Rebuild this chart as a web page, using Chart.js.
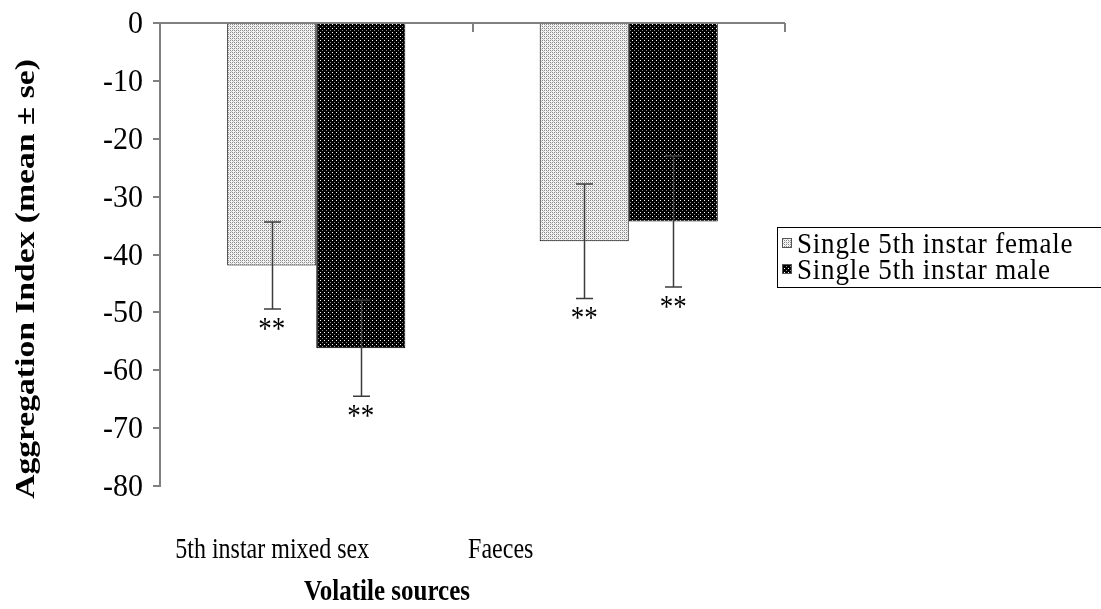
<!DOCTYPE html>
<html>
<head>
<meta charset="utf-8">
<script src="https://cdn.jsdelivr.net/npm/chart.js@4.4.0/dist/chart.umd.min.js"></script>
<style>
  html, body { margin: 0; padding: 0; background: #fff; }
  #wrap { width: 1101px; height: 609px; }
</style>
</head>
<body>
<div id="wrap"><canvas id="chart"></canvas></div>
<script>
const categories = ['5th instar mixed sex', 'Faeces'];
const seriesNames = ['Single 5th instar female', 'Single 5th instar male'];
const femaleMeans = [-41.9, -37.7];
const maleMeans = [-56.2, -34.3];
const femaleSe = [7.5, 9.9];
const maleSe = [8.3, 11.3];
const femaleMarks = ['**', '**'];
const maleMarks = ['**', '**'];
const yMin = -80;
const yMax = 0;
const yStep = 10;

const serif = '"Liberation Serif", "Times New Roman", serif';

const makePattern = (bg, dots) => {
    const tile = document.createElement('canvas');
    tile.width = 4;
    tile.height = 4;
    const t = tile.getContext('2d');
    t.fillStyle = bg;
    t.fillRect(0, 0, 4, 4);
    dots.forEach(([x, y, c]) => {
        t.fillStyle = c;
        t.fillRect(x, y, 1, 1);
    });
    return t.createPattern(tile, 'repeat');
};

const femaleFill = makePattern('#f4f4f4', [
    [0, 0, '#8a8a8a'], [2, 0, '#8a8a8a'], [0, 2, '#8a8a8a'], [2, 2, '#8a8a8a'], [1, 1, '#c4c4c4'], [3, 3, '#c4c4c4']
]);
const maleFill = makePattern('#000000', [
    [0, 0, '#ffffff'], [2, 2, '#8a8a8a']
]);

// the original picture is a bit taller than wide, so its text is drawn stretched
const tallText = (ctx, text, x, y, font, { align = 'center', stretch = 1.2, spacing = '0px' } = {}) => {
    ctx.save();
    ctx.translate(x, y);
    ctx.scale(1, stretch);
    ctx.font = font;
    ctx.letterSpacing = spacing;
    ctx.textAlign = align;
    ctx.textBaseline = 'alphabetic';
    ctx.fillStyle = '#000';
    ctx.fillText(text, 0, 0);
    ctx.restore();
};

const errorBars = {
    id: 'errorBars',
    afterDatasetsDraw(chart) {
        const { ctx } = chart;
        const y = chart.scales.y;
        const errs = [femaleSe, maleSe];
        const marks = [femaleMarks, maleMarks];
        chart.data.datasets.forEach((ds, i) => {
            chart.getDatasetMeta(i).data.forEach((bar, j) => {
                const v = ds.data[j];
                const lo = y.getPixelForValue(v - errs[i][j]);
                const hi = y.getPixelForValue(v + errs[i][j]);
                const x = Math.round(bar.x) + 0.5;
                ctx.save();
                ctx.strokeStyle = '#3c3c3c';
                ctx.lineWidth = 1.5;
                ctx.beginPath();
                ctx.moveTo(x, hi);
                ctx.lineTo(x, lo);
                ctx.moveTo(x - 8.5, hi);
                ctx.lineTo(x + 8.5, hi);
                ctx.moveTo(x - 8.5, lo);
                ctx.lineTo(x + 8.5, lo);
                ctx.stroke();
                ctx.restore();
                tallText(ctx, marks[i][j], bar.x, lo + 30, '27px ' + serif);
            });
        });
    }
};

const decorations = {
    id: 'decorations',
    afterDraw(chart) {
        const { ctx, chartArea } = chart;
        const x = chart.scales.x;
        const y = chart.scales.y;

        // tick marks on the zero line, between and after the categories
        ctx.save();
        ctx.strokeStyle = '#808080';
        ctx.lineWidth = 2;
        const half = (x.getPixelForValue(1) - x.getPixelForValue(0)) / 2;
        ctx.beginPath();
        categories.forEach((c, i) => {
            const px = Math.round(x.getPixelForValue(i) + half);
            ctx.moveTo(px, chartArea.top);
            ctx.lineTo(px, chartArea.top + 9);
        });
        ctx.stroke();
        ctx.restore();

        // value labels of the y axis
        y.ticks.forEach((t) => {
            tallText(ctx, String(t.value), chartArea.left - 17, y.getPixelForValue(t.value) + 10,
                '30px ' + serif, { align: 'right', stretch: 1.08 });
        });

        // category labels sit left of the bar groups, as in the original
        const shift = [-44, -128];
        categories.forEach((c, i) => {
            tallText(ctx, c, x.getPixelForValue(i) + shift[i], chartArea.bottom + 72, '24px ' + serif);
        });

        tallText(ctx, 'Volatile sources', 387, 600, 'bold 25px ' + serif);
        ctx.save();
        ctx.translate(34, 279);
        ctx.scale(1, 1.2);
        ctx.rotate(-Math.PI / 2);
        ctx.font = 'bold 28px ' + serif;
        ctx.textAlign = 'center';
        ctx.textBaseline = 'alphabetic';
        ctx.fillStyle = '#000';
        ctx.fillText('Aggregation Index (mean \u00b1 se)', 0, 0);
        ctx.restore();

        // legend
        ctx.save();
        ctx.strokeStyle = '#000';
        ctx.lineWidth = 1;
        ctx.strokeRect(777.5, 227.5, 340, 60);
        const fills = [femaleFill, maleFill];
        seriesNames.forEach((name, i) => {
            const mid = 243 + i * 26;
            ctx.fillStyle = fills[i];
            ctx.fillRect(782, mid - 5, 10, 10);
            ctx.strokeStyle = '#555';
            ctx.strokeRect(782.5, mid - 4.5, 9, 9);
            tallText(ctx, name, 797, mid + 10, '27px ' + serif, { align: 'left', stretch: 1.08, spacing: '0.8px' });
        });
        ctx.restore();
    }
};

new Chart(document.getElementById('chart'), {
    type: 'bar',
    data: {
        labels: categories,
        datasets: [
            { label: seriesNames[0], data: femaleMeans, backgroundColor: femaleFill, borderColor: '#000', borderWidth: 1 },
            { label: seriesNames[1], data: maleMeans, backgroundColor: maleFill, borderColor: '#000', borderWidth: 1 }
        ]
    },
    options: {
        responsive: true,
        maintainAspectRatio: false,
        animation: false,
        devicePixelRatio: 1,
        layout: { padding: { left: 0, top: 23, right: 316, bottom: 123 } },
        datasets: { bar: { barPercentage: 1, categoryPercentage: 0.57 } },
        plugins: { legend: { display: false }, tooltip: { enabled: false } },
        scales: {
            x: { display: false },
            y: {
                min: yMin,
                max: yMax,
                afterFit: (scale) => { scale.width = 160; },
                ticks: { stepSize: yStep, display: false },
                border: { color: '#808080', width: 2 },
                grid: {
                    color: (ctx) => (ctx.tick && ctx.tick.value === 0 ? '#808080' : 'rgba(0,0,0,0)'),
                    lineWidth: 2,
                    tickColor: '#808080',
                    tickLength: 7
                }
            }
        }
    },
    plugins: [errorBars, decorations]
});
</script>
</body>
</html>
